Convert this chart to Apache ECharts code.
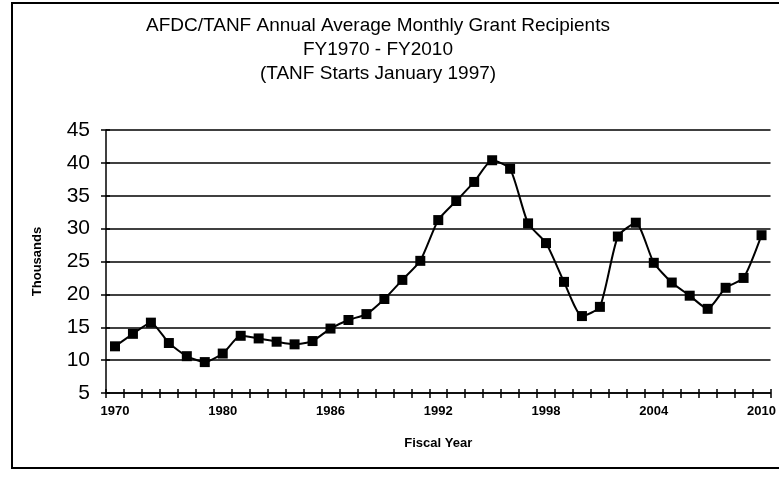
<!DOCTYPE html>
<html>
<head>
<meta charset="utf-8">
<script src="https://cdn.jsdelivr.net/npm/echarts@6/dist/echarts.min.js"></script>
<style>
  html, body { margin: 0; padding: 0; background: #fff; }
  #chart { width: 779px; height: 479px; }
</style>
</head>
<body>
<div id="chart"></div>
<script>
// fiscal years as printed on the axis (labels shown every 6th year)
const years = ['1970', '1975', '1976', '1977', '1978', '1979', '1980', '1981', '1982', '1983',
  '1984', '1985', '1986', '1987', '1988', '1989', '1990', '1991', '1992', '1993',
  '1994', '1995', '1996', '1997', '1998', '1999', '2000', '2001', '2002', '2003',
  '2004', '2005', '2006', '2007', '2008', '2009', '2010']
// thousands of recipients
const recipients = [12.1, 14.0, 15.7, 12.6, 10.6, 9.7, 11.0, 13.7, 13.3, 12.8,
  12.4, 12.9, 14.8, 16.1, 17.0, 19.3, 22.2, 25.1, 31.3, 34.2,
  37.1, 40.4, 39.1, 30.8, 27.8, 21.9, 16.7, 18.1, 28.8, 30.9,
  24.8, 21.8, 19.8, 17.8, 21.0, 22.5, 29.0]
const yTicks = { min: 5, max: 45, step: 5 }

const font = 'Liberation Sans, Arial, sans-serif'
const myChart = echarts.init(document.getElementById('chart'))
const option = {
  animation: false,
  backgroundColor: '#fff',
  title: {
    text: 'AFDC/TANF Annual Average Monthly Grant Recipients\nFY1970 - FY2010\n(TANF Starts January 1997)',
    left: 373,
    top: 9,
    textAlign: 'center',
    textStyle: { fontFamily: font, fontSize: 19, fontWeight: 'normal', color: '#000', lineHeight: 24 }
  },
  graphic: [{
    type: 'rect',
    shape: { x: 12, y: 3, width: 790, height: 465 },
    style: { fill: 'none', stroke: '#000', lineWidth: 2 }
  }],
  grid: { left: 106, right: 8, top: 130, bottom: 86 },
  xAxis: [{
    type: 'category',
    data: years,
    boundaryGap: true,
    name: 'Fiscal Year',
    nameLocation: 'middle',
    nameGap: 44,
    nameTextStyle: { fontFamily: font, fontSize: 13, fontWeight: 'bold', color: '#000' },
    axisLine: { lineStyle: { color: '#000', width: 1.5 } },
    axisTick: { show: true, length: 5, interval: 0, lineStyle: { color: '#000', width: 1.5 } },
    axisLabel: { interval: 5, margin: 12, fontFamily: font, fontSize: 13, fontWeight: 'bold', color: '#000' },
    splitLine: { show: false }
  }, {
    type: 'category',
    data: years,
    boundaryGap: true,
    position: 'bottom',
    axisLine: { show: false },
    axisTick: { show: true, inside: true, length: 4, interval: 0, lineStyle: { color: '#000', width: 1.5 } },
    axisLabel: { show: false },
    splitLine: { show: false }
  }],
  yAxis: [{
    type: 'value',
    min: yTicks.min,
    max: yTicks.max,
    interval: yTicks.step,
    name: 'Thousands',
    nameLocation: 'middle',
    nameGap: 62,
    nameTextStyle: { fontFamily: font, fontSize: 13, fontWeight: 'bold', color: '#000' },
    axisLine: { show: true, lineStyle: { color: '#000', width: 1.5 } },
    axisTick: { show: true, length: 5, lineStyle: { color: '#000', width: 1.5 } },
    axisLabel: { margin: 16, fontFamily: font, fontSize: 21, color: '#000' },
    splitLine: { show: true, lineStyle: { color: '#000', width: 1.5 } }
  }, {
    type: 'value',
    min: yTicks.min,
    max: yTicks.max,
    interval: yTicks.step,
    position: 'left',
    axisLine: { show: false },
    axisTick: { show: true, inside: true, length: 4, lineStyle: { color: '#000', width: 1.5 } },
    axisLabel: { show: false },
    splitLine: { show: false }
  }],
  series: [{
    type: 'line',
    data: recipients,
    smooth: 0.2,
    symbol: 'rect',
    symbolSize: 10,
    itemStyle: { color: '#000' },
    lineStyle: { color: '#000', width: 2 }
  }]
}
myChart.setOption(option)
</script>
</body>
</html>
